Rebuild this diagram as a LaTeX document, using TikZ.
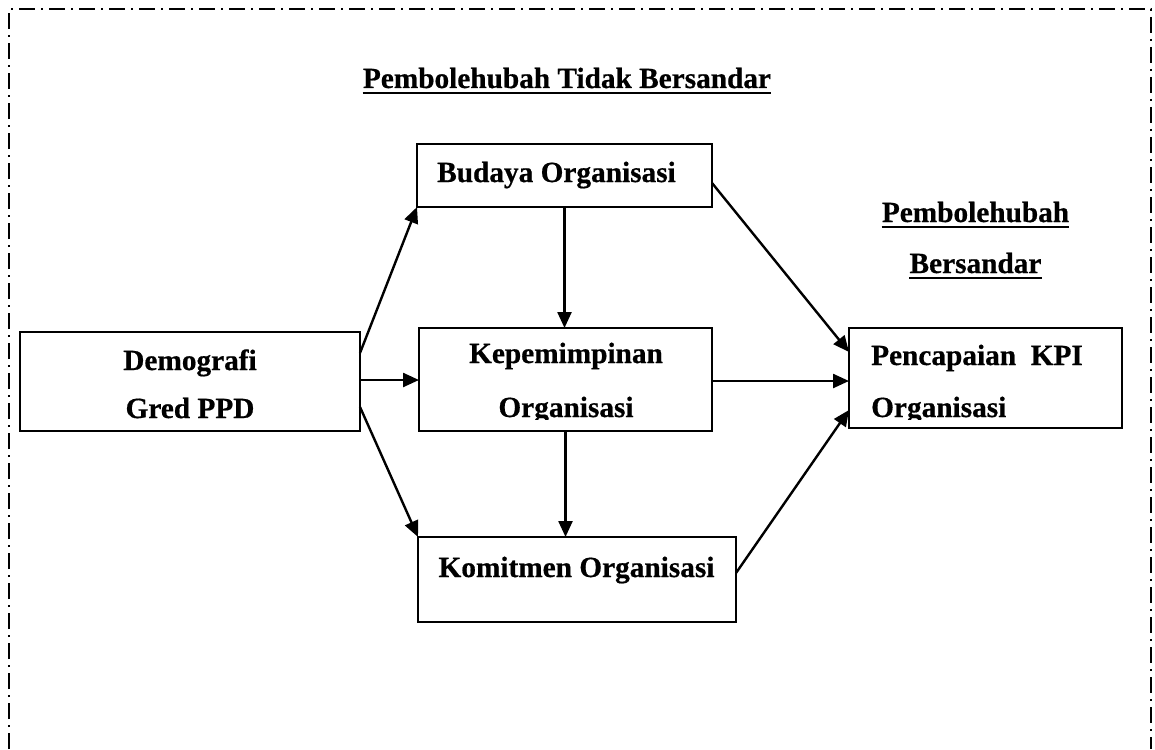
\documentclass[tikz,border=0pt]{standalone}
\usepackage{fontspec}
\setmainfont{Liberation Serif}[BoldFeatures={FakeBold=0.6}]
\usetikzlibrary{arrows.meta,calc}
\begin{document}
\begin{tikzpicture}[x=1pt,y=-1pt,
  box/.style={draw,line width=2.4pt,rectangle,inner sep=0pt,outer sep=0pt},
  lbl/.style={inner sep=0pt,anchor=base,font=\fontsize{29.3}{29.3}\selectfont\bfseries},
  arr/.style={line width=2.4pt,-{Triangle[length=16pt,width=14pt]}},
  framestyle/.style={line width=1.6pt,dash pattern=on 16pt off 6pt on 2pt off 6pt},
  uline/.style={line width=2.4pt}]
\useasboundingbox (0,0) rectangle (1155,749);
% frame (open at the bottom)
\draw[framestyle] (9,749) -- (9,9) -- (1151,9) -- (1151,749);

% boxes
\node[box,minimum width=340pt,minimum height=99pt] (demo) at (190,381.5) {};
\node[box,minimum width=295pt,minimum height=63pt] (budaya) at (564.5,175.5) {};
\node[box,minimum width=293pt,minimum height=103pt] (kepem) at (565.5,379.5) {};
\node[box,minimum width=318pt,minimum height=85pt] (komit) at (577,579.5) {};
\node[box,minimum width=273pt,minimum height=100pt] (penc) at (985.5,378) {};

% texts
\node[lbl] (title) at (567,88) {Pembolehubah Tidak Bersandar};
\draw[uline] ($(title.base west)+(0,5)$) -- ($(title.base east)+(0,5)$);
\node[lbl] (dep1) at (975.5,222) {Pembolehubah};
\draw[uline] ($(dep1.base west)+(0,5)$) -- ($(dep1.base east)+(0,5)$);
\node[lbl] (dep2) at (975.5,273) {Bersandar};
\draw[uline] ($(dep2.base west)+(0,5)$) -- ($(dep2.base east)+(0,5)$);

\node[lbl] (tdemo1) at (190,370) {Demografi};
\node[lbl] (tdemo2) at (190,418) {Gred PPD};
\node[lbl] (tbud) at (556.5,182) {Budaya Organisasi};
\node[lbl] (tkep1) at (566,363) {Kepemimpinan};
\begin{scope}
\clip (420,380) rectangle (711,419);
\node[lbl] (tkep2) at (566,417) {Organisasi};
\end{scope}
\node[lbl] (tkom) at (576.5,577) {Komitmen Organisasi};
\node[lbl,anchor=base west] (tpen1) at (871,365) {Pencapaian\ \ KPI};
\begin{scope}
\clip (850,380) rectangle (1121,419);
\node[lbl,anchor=base west] (tpen2) at (871,417) {Organisasi};
\end{scope}

% connectors
\draw[arr] ($(demo.north east)+(0,21)$) -- (budaya.south west);
\draw[arr] ($(demo.north east)+(0,48)$) -- ($(kepem.north west)+(0,52)$);
\draw[arr] ($(demo.north east)+(0,75)$) -- (komit.north west);
\draw[arr] (budaya.south) -- (budaya.south |- kepem.north);
\draw[arr] (kepem.south) -- (kepem.south |- komit.north);
\draw[arr] ($(budaya.north east)+(0,39)$) -- ($(penc.north west)+(0,24)$);
\draw[arr] ($(kepem.north east)+(0,53)$) -- ($(penc.north west)+(0,53)$);
\draw[arr] ($(komit.north east)+(0,36)$) -- ($(penc.north west)+(0,82)$);
\end{tikzpicture}
\end{document}
